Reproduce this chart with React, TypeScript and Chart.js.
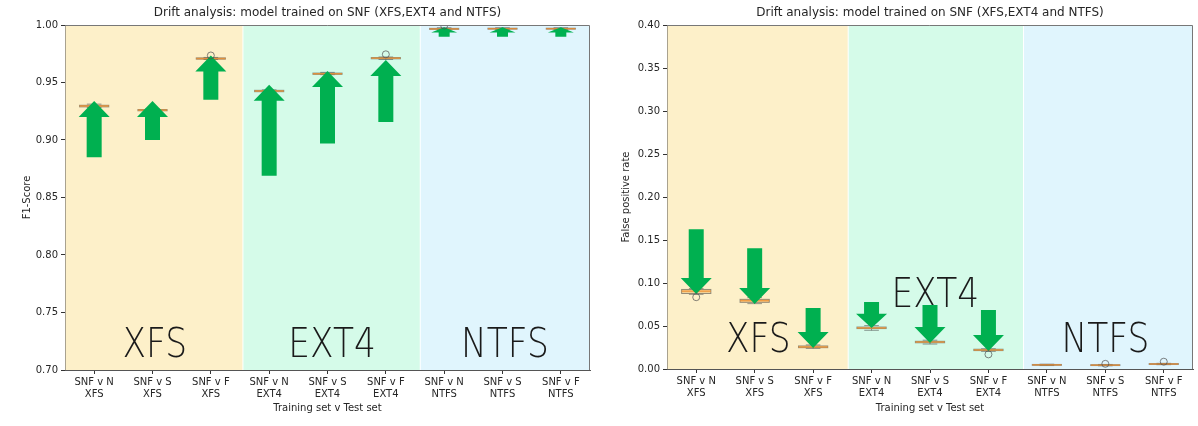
import React, { useEffect, useRef } from "react";
import { Chart, registerables } from "chart.js";

Chart.register(...registerables);

// ---------- data ----------
const categories: string[][] = [
  ["SNF v N", "XFS"], ["SNF v S", "XFS"], ["SNF v F", "XFS"],
  ["SNF v N", "EXT4"], ["SNF v S", "EXT4"], ["SNF v F", "EXT4"],
  ["SNF v N", "NTFS"], ["SNF v S", "NTFS"], ["SNF v F", "NTFS"],
];
const regionNames = ["XFS", "EXT4", "NTFS"];
const chartTitle = "Drift analysis: model trained on SNF (XFS,EXT4 and NTFS)";
const xTitle = "Training set v Test set";

// F1-score panel
const f1Median = [0.9296, 0.926, 0.9708, 0.9426, 0.9576, 0.9712, 0.9966, 0.9968, 0.9968];
const f1Q1 = [0.9288, 0.9254, 0.9703, 0.9420, 0.9571, 0.9706, 0.9962, 0.9964, 0.9964];
const f1Q3 = [0.9302, 0.9265, 0.9714, 0.9432, 0.9582, 0.9717, 0.9971, 0.9972, 0.9972];
const f1WhiskLo = [0.9282, 0.9250, 0.9700, 0.9415, 0.9568, 0.9700, 0.9958, 0.9960, 0.9960];
const f1WhiskHi = [0.9312, 0.9270, 0.9718, 0.9436, 0.9588, 0.9722, 0.9976, 0.9976, 0.9976];
const f1Outliers: number[][] = [[], [], [0.9735], [], [], [0.9745], [0.9995], [], []];
const f1ArrowFrom = [0.885, 0.9, 0.935, 0.869, 0.897, 0.9157, 0.9898, 0.9898, 0.9898];
const f1ArrowTo = [0.934, 0.934, 0.9735, 0.948, 0.96, 0.9696, 0.998, 0.998, 0.998];
const f1SpanEdges = [0.5, 3.55, 6.59, 9.5];
const f1LabelX = [2.04, 5.08, 8.04];
const f1LabelY = [0.711, 0.711, 0.711];

// False-positive-rate panel
const fprMedian = [0.0905, 0.0795, 0.0256, 0.0477, 0.0314, 0.0221, 0.0048, 0.0045, 0.0058];
const fprQ1 = [0.0878, 0.0775, 0.0248, 0.0470, 0.0305, 0.0214, 0.0043, 0.0040, 0.0053];
const fprQ3 = [0.0925, 0.0810, 0.0268, 0.0488, 0.0322, 0.0230, 0.0053, 0.0050, 0.0063];
const fprWhiskLo = [0.0868, 0.0760, 0.0240, 0.0450, 0.0290, 0.0205, 0.0040, 0.0037, 0.0050];
const fprWhiskHi = [0.0935, 0.0830, 0.0280, 0.0505, 0.0335, 0.0235, 0.0056, 0.0053, 0.0066];
const fprOutliers: number[][] = [[0.0835], [], [], [], [], [0.017], [], [0.006], [0.0085]];
const fprArrowFrom = [0.1625, 0.1405, 0.0709, 0.0779, 0.0744, 0.0686];
const fprArrowTo = [0.0872, 0.0756, 0.0244, 0.0477, 0.0302, 0.0209];
const fprSpanEdges = [0.5, 3.6, 6.6, 9.5];
const fprLabelX = [2.06, 5.09, 8.0];
const fprLabelY = [0.0198, 0.072, 0.0198];

const spanColors = ["#fdf0c9", "#d5fbe9", "#e0f5fd"];
const ARROW = "#00b050";
const TXT = "#262626";

type Panel = {
  yTitle: string;
  yMin: number;
  yMax: number;
  median: number[];
  q1: number[];
  q3: number[];
  lo: number[];
  hi: number[];
  outliers: number[][];
  arrowFrom: number[];
  arrowTo: number[];
  spans: number[];
  labelX: number[];
  labelY: number[];
  yAxisWidth: number;
  padRight: number;
  bottom: number;
};

function drawArrow(ctx: CanvasRenderingContext2D, x: number, yTail: number, yTip: number) {
  const shaftW = 15, headW = 31;
  const len = Math.abs(yTip - yTail);
  const dir = yTip < yTail ? -1 : 1;
  const hl = Math.min(16, len * 0.55);
  const hw = len < 20 ? 26 : headW;
  const sw = len < 20 ? 11 : shaftW;
  const yBase = yTip - dir * hl;
  ctx.beginPath();
  ctx.moveTo(x - sw / 2, yTail);
  ctx.lineTo(x - sw / 2, yBase);
  ctx.lineTo(x - hw / 2, yBase);
  ctx.lineTo(x, yTip);
  ctx.lineTo(x + hw / 2, yBase);
  ctx.lineTo(x + sw / 2, yBase);
  ctx.lineTo(x + sw / 2, yTail);
  ctx.closePath();
  ctx.fill();
}

function makeConfig(p: Panel): any {
  const decorPlugin = {
    id: "decor",
    beforeDatasetsDraw(chart: any) {
      const { ctx, chartArea: a, scales } = chart;
      const xs = scales.x, ys = scales.y;
      ctx.save();
      // background spans
      for (let i = 0; i < 3; i++) {
        const x0 = xs.getPixelForValue(p.spans[i]);
        const x1 = xs.getPixelForValue(p.spans[i + 1]);
        ctx.fillStyle = spanColors[i];
        ctx.fillRect(x0 + 0.5, a.top, x1 - x0 - 1, a.bottom - a.top);
      }
      // region labels
      ctx.fillStyle = "#1a1a1a";
      ctx.font = '200 40px "DejaVu Sans"';
      ctx.textAlign = "center";
      ctx.textBaseline = "alphabetic";
      for (let i = 0; i < 3; i++) {
        const x = xs.getPixelForValue(p.labelX[i]);
        const y = ys.getPixelForValue(p.labelY[i]);
        ctx.save();
        ctx.translate(x, y);
        ctx.scale(0.86, 1);
        ctx.fillText(regionNames[i], 0, 0);
        ctx.restore();
      }
      // boxplots
      const half = (xs.getPixelForValue(1.25) - xs.getPixelForValue(1));
      const capHalf = half / 2;
      for (let i = 0; i < p.median.length; i++) {
        const cx = xs.getPixelForValue(i + 1);
        const yq1 = ys.getPixelForValue(p.q1[i]);
        const yq3 = ys.getPixelForValue(p.q3[i]);
        const ylo = ys.getPixelForValue(p.lo[i]);
        const yhi = ys.getPixelForValue(p.hi[i]);
        const ym = ys.getPixelForValue(p.median[i]);
        ctx.strokeStyle = "rgba(70,70,70,0.55)";
        ctx.lineWidth = 1;
        ctx.beginPath();
        ctx.moveTo(cx, yq1); ctx.lineTo(cx, ylo);
        ctx.moveTo(cx, yq3); ctx.lineTo(cx, yhi);
        ctx.moveTo(cx - capHalf, ylo); ctx.lineTo(cx + capHalf, ylo);
        ctx.moveTo(cx - capHalf, yhi); ctx.lineTo(cx + capHalf, yhi);
        ctx.stroke();
        ctx.fillStyle = "rgba(235,190,120,0.6)";
        ctx.fillRect(cx - half, yq3, 2 * half, yq1 - yq3);
        ctx.strokeRect(cx - half, yq3, 2 * half, yq1 - yq3);
        ctx.strokeStyle = "rgba(240,140,40,0.75)";
        ctx.lineWidth = 1.5;
        ctx.beginPath();
        ctx.moveTo(cx - half, ym); ctx.lineTo(cx + half, ym);
        ctx.stroke();
      }
      // arrows
      ctx.fillStyle = ARROW;
      for (let i = 0; i < p.arrowFrom.length; i++) {
        const cx = xs.getPixelForValue(i + 1);
        drawArrow(ctx, cx, ys.getPixelForValue(p.arrowFrom[i]), ys.getPixelForValue(p.arrowTo[i]));
      }
      ctx.restore();
    },
    afterDraw(chart: any) {
      const { ctx, chartArea: a } = chart;
      ctx.save();
      ctx.strokeStyle = "#777";
      ctx.lineWidth = 1;
      ctx.beginPath();
      ctx.moveTo(a.left, a.top + 0.5);
      ctx.lineTo(a.right - 0.5, a.top + 0.5);
      ctx.lineTo(a.right - 0.5, a.bottom);
      ctx.stroke();
      ctx.fillStyle = TXT;
      ctx.font = '12px "DejaVu Sans"';
      ctx.textAlign = "center";
      ctx.textBaseline = "middle";
      ctx.fillText(chartTitle, (a.left + a.right) / 2, 13);
      ctx.restore();
    },
  };

  const outlierPts: { x: number; y: number }[] = [];
  p.outliers.forEach((arr, i) => arr.forEach((v) => outlierPts.push({ x: i + 1, y: v })));

  return {
    type: "scatter",
    data: {
      datasets: [
        {
          data: outlierPts,
          pointStyle: "circle",
          pointRadius: 3.5,
          backgroundColor: "rgba(0,0,0,0)",
          borderColor: "rgba(80,80,80,0.7)",
          borderWidth: 1,
        },
      ],
    },
    options: {
      responsive: false,
      animation: false,
      events: [],
      layout: { padding: { left: 0, right: p.padRight, top: 25, bottom: 0 } },
      plugins: { legend: { display: false }, title: { display: false }, tooltip: { enabled: false } },
      scales: {
        x: {
          type: "linear",
          min: 0.5,
          max: 9.5,
          afterBuildTicks: (s: any) => {
            s.ticks = categories.map((_, i) => ({ value: i + 1 }));
          },
          afterFit: (s: any) => { s.height = 426 - p.bottom; },
          ticks: {
            autoSkip: false,
            maxRotation: 0,
            padding: 2,
            color: TXT,
            font: { family: "DejaVu Sans", size: 10, lineHeight: 1.2 },
            callback: (v: number) => categories[Math.round(v) - 1] || "",
          },
          grid: { display: true, drawOnChartArea: false, drawTicks: true, tickLength: 4, color: "#333" },
          border: { display: true, color: "#555" },
          title: {
            display: true,
            text: xTitle,
            color: TXT,
            font: { family: "DejaVu Sans", size: 10, lineHeight: 1.2 },
            padding: { top: 0, bottom: 12 },
          },
        },
        y: {
          type: "linear",
          min: p.yMin,
          max: p.yMax,
          afterFit: (s: any) => { s.width = p.yAxisWidth; },
          ticks: {
            stepSize: 0.05,
            padding: 3,
            color: TXT,
            font: { family: "DejaVu Sans", size: 10 },
            callback: (v: number) => v.toFixed(2),
          },
          grid: { display: true, drawOnChartArea: false, drawTicks: true, tickLength: 4, color: "#333" },
          border: { display: true, color: "#555" },
          title: {
            display: true,
            text: p.yTitle,
            color: TXT,
            font: { family: "DejaVu Sans", size: 10, lineHeight: 1.2 },
            padding: { top: 21, bottom: 0 },
          },
        },
      },
    },
    plugins: [decorPlugin],
  };
}

const leftPanel: Panel = {
  yTitle: "F1-Score", yMin: 0.7, yMax: 1.0,
  median: f1Median, q1: f1Q1, q3: f1Q3, lo: f1WhiskLo, hi: f1WhiskHi, outliers: f1Outliers,
  arrowFrom: f1ArrowFrom, arrowTo: f1ArrowTo, spans: f1SpanEdges, labelX: f1LabelX, labelY: f1LabelY,
  yAxisWidth: 65, padRight: 9, bottom: 370,
};
const rightPanel: Panel = {
  yTitle: "False positive rate", yMin: 0, yMax: 0.4,
  median: fprMedian, q1: fprQ1, q3: fprQ3, lo: fprWhiskLo, hi: fprWhiskHi, outliers: fprOutliers,
  arrowFrom: fprArrowFrom, arrowTo: fprArrowTo, spans: fprSpanEdges, labelX: fprLabelX, labelY: fprLabelY,
  yAxisWidth: 68, padRight: 5, bottom: 369,
};

function PanelChart({ panel, left }: { panel: Panel; left: number }) {
  const ref = useRef<HTMLCanvasElement>(null);
  useEffect(() => {
    if (!ref.current) return;
    const chart = new Chart(ref.current, makeConfig(panel));
    return () => chart.destroy();
  }, [panel]);
  return (
    <canvas
      ref={ref}
      width={599}
      height={426}
      style={{ position: "absolute", left, top: 0, width: 599, height: 426 }}
    />
  );
}

export default function App() {
  return (
    <div style={{ position: "fixed", left: 0, top: 0, width: 1198, height: 426, background: "#fff", overflow: "hidden" }}>
      <PanelChart panel={leftPanel} left={0} />
      <PanelChart panel={rightPanel} left={599} />
    </div>
  );
}
